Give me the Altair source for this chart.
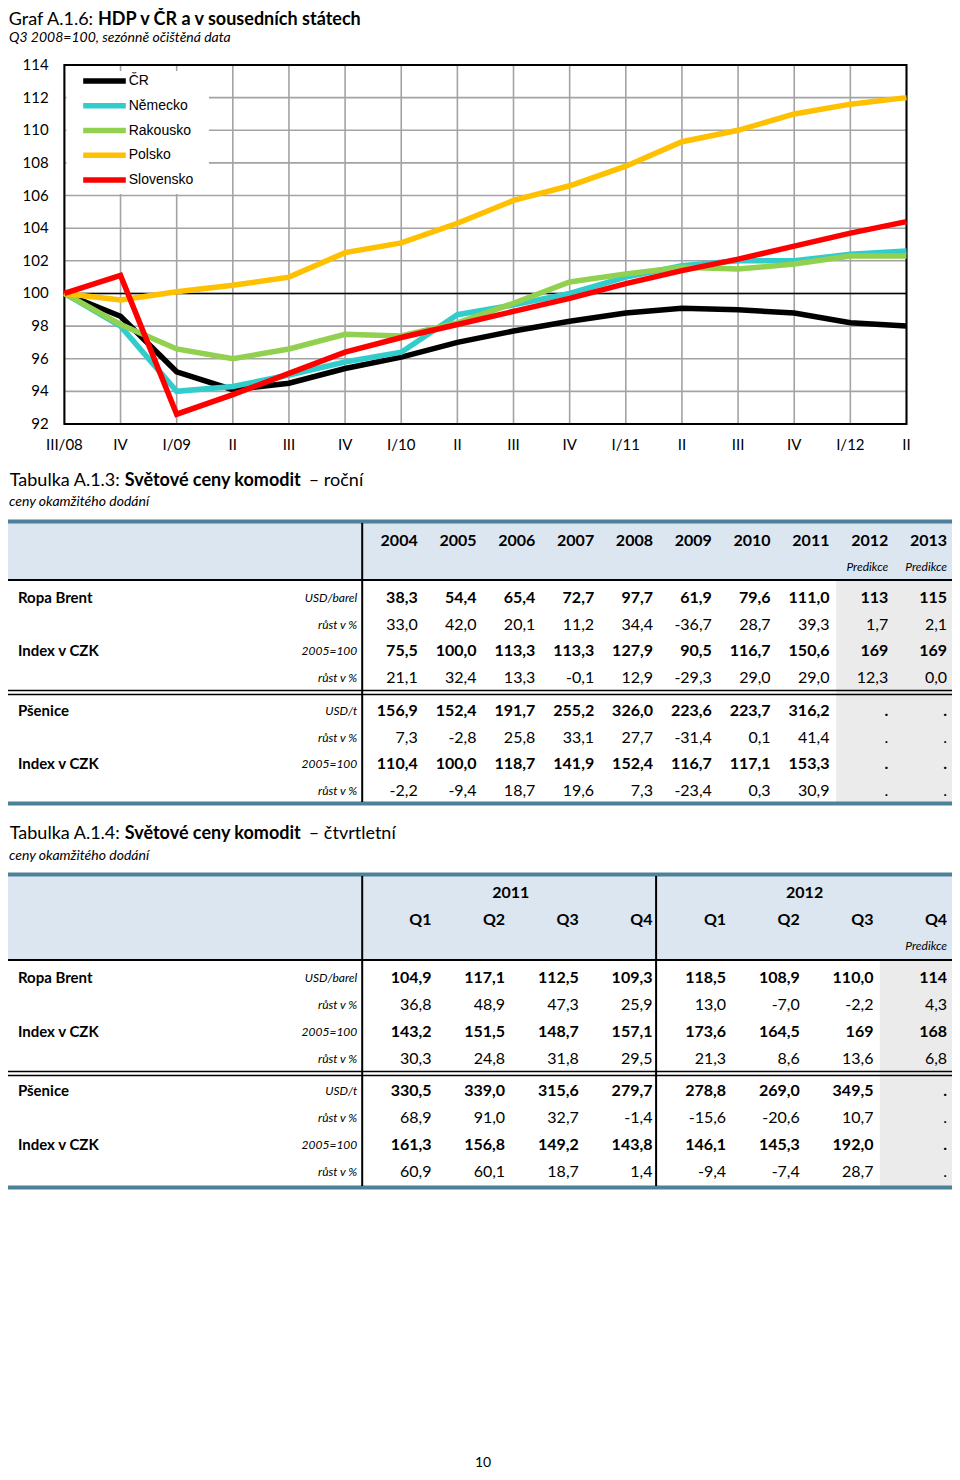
import altair as alt
import pandas as pd

# ---------------- Graf A.1.6 data ----------------
quarters = ["III/08", "IV", "I/09", "II", "III", "IV", "I/10", "II",
            "III", "IV", "I/11", "II", "III", "IV", "I/12", "II"]
series_names = ["ČR", "Německo", "Rakousko", "Polsko", "Slovensko"]
series_colors = ["#000000", "#33cccc", "#92d050", "#ffc000", "#ff0000"]
cr = [100.0, 98.6, 95.2, 94.1, 94.5, 95.4, 96.1, 97.0, 97.7, 98.3, 98.8, 99.1, 99.0, 98.8, 98.2, 98.0]
nemecko = [100.0, 98.0, 94.0, 94.3, 95.0, 95.8, 96.4, 98.7, 99.3, 100.0, 101.0, 101.7, 102.0, 102.0, 102.4, 102.6]
rakousko = [100.0, 98.1, 96.6, 96.0, 96.6, 97.5, 97.4, 98.2, 99.4, 100.7, 101.2, 101.6, 101.5, 101.8, 102.3, 102.3]
polsko = [100.0, 99.6, 100.1, 100.5, 101.0, 102.5, 103.1, 104.3, 105.7, 106.6, 107.8, 109.3, 110.0, 111.0, 111.6, 112.0]
slovensko = [100.0, 101.1, 92.6, 93.8, 95.1, 96.4, 97.3, 98.1, 98.9, 99.7, 100.6, 101.4, 102.1, 102.9, 103.7, 104.4]
y_ticks = [92, 94, 96, 98, 100, 102, 104, 106, 108, 110, 112, 114]

# ---------------- Tabulka A.1.3 data ----------------
t1_years = ["2004", "2005", "2006", "2007", "2008", "2009", "2010", "2011", "2012", "2013"]
t1_pred_cols = [8, 9]
brent_usd = ["38,3", "54,4", "65,4", "72,7", "97,7", "61,9", "79,6", "111,0", "113", "115"]
brent_usd_g = ["33,0", "42,0", "20,1", "11,2", "34,4", "-36,7", "28,7", "39,3", "1,7", "2,1"]
brent_czk = ["75,5", "100,0", "113,3", "113,3", "127,9", "90,5", "116,7", "150,6", "169", "169"]
brent_czk_g = ["21,1", "32,4", "13,3", "-0,1", "12,9", "-29,3", "29,0", "29,0", "12,3", "0,0"]
wheat_usd = ["156,9", "152,4", "191,7", "255,2", "326,0", "223,6", "223,7", "316,2", ".", "."]
wheat_usd_g = ["7,3", "-2,8", "25,8", "33,1", "27,7", "-31,4", "0,1", "41,4", ".", "."]
wheat_czk = ["110,4", "100,0", "118,7", "141,9", "152,4", "116,7", "117,1", "153,3", ".", "."]
wheat_czk_g = ["-2,2", "-9,4", "18,7", "19,6", "7,3", "-23,4", "0,3", "30,9", ".", "."]

# ---------------- Tabulka A.1.4 data ----------------
t2_years = ["2011", "2012"]
t2_quarters = ["Q1", "Q2", "Q3", "Q4", "Q1", "Q2", "Q3", "Q4"]
t2_pred_cols = [7]
q_brent_usd = ["104,9", "117,1", "112,5", "109,3", "118,5", "108,9", "110,0", "114"]
q_brent_usd_g = ["36,8", "48,9", "47,3", "25,9", "13,0", "-7,0", "-2,2", "4,3"]
q_brent_czk = ["143,2", "151,5", "148,7", "157,1", "173,6", "164,5", "169", "168"]
q_brent_czk_g = ["30,3", "24,8", "31,8", "29,5", "21,3", "8,6", "13,6", "6,8"]
q_wheat_usd = ["330,5", "339,0", "315,6", "279,7", "278,8", "269,0", "349,5", "."]
q_wheat_usd_g = ["68,9", "91,0", "32,7", "-1,4", "-15,6", "-20,6", "10,7", "."]
q_wheat_czk = ["161,3", "156,8", "149,2", "143,8", "146,1", "145,3", "192,0", "."]
q_wheat_czk_g = ["60,9", "60,1", "18,7", "1,4", "-9,4", "-7,4", "28,7", "."]

sec1_labels = ["Ropa Brent", "Index v CZK"]
sec2_labels = ["Pšenice", "Index v CZK"]
sec1_units = ["USD/barel", "růst v %", "2005=100", "růst v %"]
sec2_units = ["USD/t", "růst v %", "2005=100", "růst v %"]

# ---------------- layout helpers ----------------
W, H = 944, 1464
FONT = "Lato"
TEAL = "#4d8099"
HEAD_BG = "#dce6f1"
GRAY_BG = "#ebebeb"


def fx(px):
    return round((px - 4) * 944 / 954, 1)


def fy(py):
    return py - 6


one = pd.DataFrame({"a": [0]})


def txt(s, x, y, size, weight="normal", style="normal", align="left", font=FONT):
    return alt.Chart(pd.DataFrame({"t": [s]})).mark_text(
        align=align, baseline="middle", font=font, fontSize=size,
        fontWeight=weight, fontStyle=style, color="black"
    ).encode(x=alt.value(x), y=alt.value(y), text="t:N")


def hrule(y, x1, x2, color, w):
    return alt.Chart(one).mark_rule(color=color, strokeWidth=w).encode(
        x=alt.value(x1), x2=alt.value(x2), y=alt.value(y))


def vrule(x, y1, y2, color, w):
    return alt.Chart(one).mark_rule(color=color, strokeWidth=w).encode(
        x=alt.value(x), y=alt.value(y1), y2=alt.value(y2))


def box(x1, x2, y1, y2, fill):
    return alt.Chart(one).mark_rect(fill=fill).encode(
        x=alt.value(x1), x2=alt.value(x2), y=alt.value(y1), y2=alt.value(y2))


layers = []

# ---------------- Graf A.1.6 ----------------
layers.append(txt("Graf A.1.6:", fx(90), 12, 18, align="right"))
layers.append(txt("HDP v ČR a v sousedních státech", fx(95), 12, 18, weight="bold"))
layers.append(txt("Q3 2008=100, sezónně očištěná data", fx(5), 30, 14, style="italic"))

X0, X1 = fx(61), fx(912)
Y0, Y1 = fy(422), fy(63)
xs = alt.Scale(domain=[0, len(quarters) - 1], range=[X0, X1], nice=False, zero=False)
ys = alt.Scale(domain=[92, 114], range=[Y0, Y1], nice=False, zero=False)

grid_h = alt.Chart(pd.DataFrame({"v": y_ticks})).mark_rule(color="#a3a3a3", strokeWidth=1.6).encode(
    y=alt.Y("v:Q", scale=ys, axis=None), x=alt.value(X0), x2=alt.value(X1))
grid_v = alt.Chart(pd.DataFrame({"i": list(range(len(quarters)))})).mark_rule(
    color="#a3a3a3", strokeWidth=1.6).encode(
    x=alt.X("i:Q", scale=xs, axis=None), y=alt.value(Y1), y2=alt.value(Y0))
line100 = alt.Chart(pd.DataFrame({"v": [100]})).mark_rule(color="black", strokeWidth=1.6).encode(
    y=alt.Y("v:Q", scale=ys, axis=None), x=alt.value(X0), x2=alt.value(X1))
border = alt.Chart(one).mark_rect(fillOpacity=0, stroke="black", strokeWidth=2).encode(
    x=alt.value(X0), x2=alt.value(X1), y=alt.value(Y1), y2=alt.value(Y0))

ylab = alt.Chart(pd.DataFrame({"v": y_ticks})).mark_text(
    align="right", baseline="middle", font=FONT, fontSize=15, color="black").encode(
    y=alt.Y("v:Q", scale=ys, axis=None), x=alt.value(fx(45)), text="v:Q")
xlab = alt.Chart(pd.DataFrame({"i": list(range(len(quarters))), "t": quarters})).mark_text(
    align="center", baseline="middle", font=FONT, fontSize=15, color="black").encode(
    x=alt.X("i:Q", scale=xs, axis=None), y=alt.value(fy(443)), text="t:N")

rows = []
for name, vals in zip(series_names, [cr, nemecko, rakousko, polsko, slovensko]):
    for i, v in enumerate(vals):
        rows.append({"i": i, "zeme": name, "v": v})
df_lines = pd.DataFrame(rows)
cscale = alt.Scale(domain=series_names, range=series_colors)
lines = alt.Chart(df_lines).mark_line(strokeWidth=5.5).encode(
    x=alt.X("i:Q", scale=xs, axis=None),
    y=alt.Y("v:Q", scale=ys, axis=None),
    color=alt.Color("zeme:N", scale=cscale, legend=None),
)

# legend (drawn inside plot)
df_leg = pd.DataFrame({"k": list(range(len(series_names))), "zeme": series_names})
lys = alt.Scale(domain=[0, len(series_names) - 1], range=[fy(79), fy(178)], nice=False, zero=False)
leg_box = box(fx(63), fx(207), fy(69), fy(192), "white")
leg_sym = alt.Chart(df_leg).mark_rule(strokeWidth=5.5).encode(
    x=alt.value(fx(80)), x2=alt.value(fx(123)),
    y=alt.Y("k:Q", scale=lys, axis=None),
    color=alt.Color("zeme:N", scale=cscale, legend=None))
leg_txt = alt.Chart(df_leg).mark_text(
    align="left", baseline="middle", font="Liberation Sans", fontSize=14, color="black").encode(
    x=alt.value(fx(126)), y=alt.Y("k:Q", scale=lys, axis=None), text="zeme:N")

layers += [grid_h, grid_v, line100, border, ylab, xlab, lines, leg_box, leg_sym, leg_txt]


# ---------------- tables ----------------
def section(labels, units, vals_rows, cx, y_range):
    sy = alt.Scale(domain=[0, 3], range=y_range, nice=False, zero=False)
    data = []
    for r, vals in enumerate(vals_rows):
        for c, t in enumerate(vals):
            data.append({"r": r, "c": c, "t": t})
    df = pd.DataFrame(data)
    out = []
    for bold_rows, weight in [([0, 2], "bold"), ([1, 3], "normal")]:
        sub = df[df["r"].isin(bold_rows)].reset_index(drop=True)
        out.append(alt.Chart(sub).mark_text(
            align="right", baseline="middle", font=FONT, fontSize=16,
            fontWeight=weight, color="black").encode(
            x=alt.X("c:Q", scale=cx, axis=None),
            y=alt.Y("r:Q", scale=sy, axis=None), text="t:N"))
    out.append(alt.Chart(pd.DataFrame({"r": [0, 2], "t": labels})).mark_text(
        align="left", baseline="middle", font=FONT, fontSize=15, fontWeight="bold",
        color="black").encode(x=alt.value(fx(14)), y=alt.Y("r:Q", scale=sy, axis=None), text="t:N"))
    out.append(alt.Chart(pd.DataFrame({"r": [0, 1, 2, 3], "t": units})).mark_text(
        align="right", baseline="middle", font=FONT, fontSize=12, fontStyle="italic",
        color="black").encode(x=alt.value(fx(357)), y=alt.Y("r:Q", scale=sy, axis=None), text="t:N"))
    return out


# Tabulka A.1.3
layers.append(txt("Tabulka A.1.3:", fx(117), fy(479), 18, align="right"))
layers.append(txt("Světové ceny komodit", fx(122), fy(479), 18, weight="bold"))
layers.append(txt("– roční", fx(308), fy(479), 18))
layers.append(txt("ceny okamžitého dodání", fx(5), fy(500), 14, style="italic"))

cx1 = alt.Scale(domain=[0, len(t1_years) - 1], range=[fx(418), fx(953)], nice=False, zero=False)
layers.append(box(0, W, fy(521), fy(577), HEAD_BG))
layers.append(box(fx(841), W, fy(579), fy(800), GRAY_BG))
layers.append(hrule(fy(519.5), 0, W, TEAL, 4))
layers.append(hrule(fy(578), 0, W, "black", 2))
layers.append(hrule(fy(688.5), 0, W, "black", 1.5))
layers.append(hrule(fy(692.5), 0, W, "black", 1.5))
layers.append(hrule(fy(801.5), 0, W, TEAL, 4))
layers.append(vrule(fx(362), fy(521), fy(800), "black", 2))

layers.append(alt.Chart(pd.DataFrame({"c": list(range(len(t1_years))), "t": t1_years})).mark_text(
    align="right", baseline="middle", font=FONT, fontSize=16, fontWeight="bold", color="black").encode(
    x=alt.X("c:Q", scale=cx1, axis=None), y=alt.value(fy(539)), text="t:N"))
layers.append(alt.Chart(pd.DataFrame({"c": t1_pred_cols, "t": ["Predikce"] * len(t1_pred_cols)})).mark_text(
    align="right", baseline="middle", font=FONT, fontSize=12, fontStyle="italic", color="black").encode(
    x=alt.X("c:Q", scale=cx1, axis=None), y=alt.value(fy(565)), text="t:N"))

layers += section(sec1_labels, sec1_units, [brent_usd, brent_usd_g, brent_czk, brent_czk_g],
                  cx1, [fy(596), fy(676)])
layers += section(sec2_labels, sec2_units, [wheat_usd, wheat_usd_g, wheat_czk, wheat_czk_g],
                  cx1, [fy(709), fy(789)])

# Tabulka A.1.4
layers.append(txt("Tabulka A.1.4:", fx(117), fy(832), 18, align="right"))
layers.append(txt("Světové ceny komodit", fx(122), fy(832), 18, weight="bold"))
layers.append(txt("– čtvrtletní", fx(308), fy(832), 18))
layers.append(txt("ceny okamžitého dodání", fx(5), fy(854), 14, style="italic"))

cx2 = alt.Scale(domain=[0, len(t2_quarters) - 1], range=[fx(432), fx(953)], nice=False, zero=False)
layers.append(box(0, W, fy(874), fy(957), HEAD_BG))
layers.append(box(fx(885), W, fy(959), fy(1184), GRAY_BG))
layers.append(hrule(fy(872.5), 0, W, TEAL, 4))
layers.append(hrule(fy(958), 0, W, "black", 2))
layers.append(hrule(fy(1069.5), 0, W, "black", 1.5))
layers.append(hrule(fy(1073.5), 0, W, "black", 1.5))
layers.append(hrule(fy(1185.5), 0, W, TEAL, 4))
layers.append(vrule(fx(362), fy(874), fy(1184), "black", 2))
layers.append(vrule(fx(659), fy(874), fy(1184), "black", 2))

layers.append(alt.Chart(pd.DataFrame({"t": t2_years})).mark_text(
    align="center", baseline="middle", font=FONT, fontSize=16, fontWeight="bold", color="black").encode(
    x=alt.X("t:N", scale=alt.Scale(type="point", domain=t2_years, range=[fx(512), fx(809)], padding=0), axis=None),
    y=alt.value(fy(891)), text="t:N"))
layers.append(alt.Chart(pd.DataFrame({"c": list(range(len(t2_quarters))), "t": t2_quarters})).mark_text(
    align="right", baseline="middle", font=FONT, fontSize=16, fontWeight="bold", color="black").encode(
    x=alt.X("c:Q", scale=cx2, axis=None), y=alt.value(fy(918)), text="t:N"))
layers.append(alt.Chart(pd.DataFrame({"c": t2_pred_cols, "t": ["Predikce"] * len(t2_pred_cols)})).mark_text(
    align="right", baseline="middle", font=FONT, fontSize=12, fontStyle="italic", color="black").encode(
    x=alt.X("c:Q", scale=cx2, axis=None), y=alt.value(fy(944)), text="t:N"))

layers += section(sec1_labels, sec1_units, [q_brent_usd, q_brent_usd_g, q_brent_czk, q_brent_czk_g],
                  cx2, [fy(976), fy(1057)])
layers += section(sec2_labels, sec2_units, [q_wheat_usd, q_wheat_usd_g, q_wheat_czk, q_wheat_czk_g],
                  cx2, [fy(1089), fy(1170)])

# page number
layers.append(txt("10", fx(484), 1455, 14, align="center"))

chart = alt.layer(*layers).resolve_scale(
    x="independent", y="independent"
).properties(
    width=W, height=H, padding=0,
    autosize=alt.AutoSizeParams(type="none"),
).configure_view(strokeWidth=0)

chart.save("out.html", embed_options={"renderer": "svg", "actions": False})
